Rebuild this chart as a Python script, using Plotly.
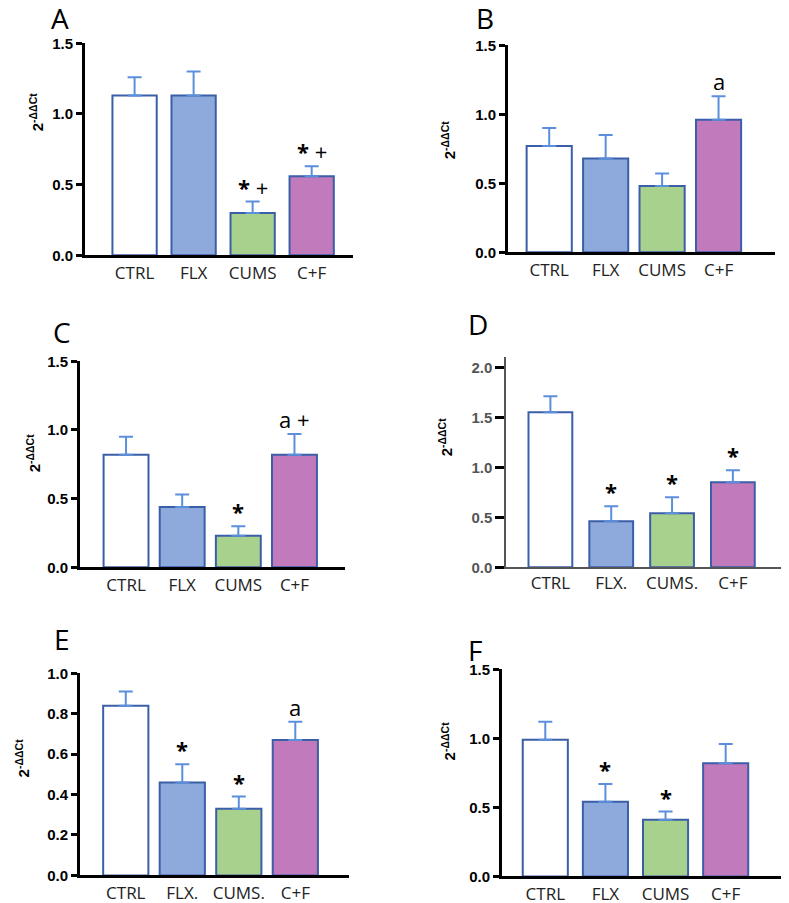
import plotly.graph_objects as go

W, H = 789, 903
# the browser shifts the figure: screen_x = fig_x + 8, screen_y = 0.981 * (fig_y + 8) + 8.9
OFF = 8
SY, TY = 0.981, 8.9

# groups and colours shared by all panels
groups = ["CTRL", "FLX", "CUMS", "C+F"]
groups_dot = ["CTRL", "FLX.", "CUMS.", "C+F"]
bar_colors = ["#ffffff", "#8eaadc", "#a9d18e", "#c17abb"]

# panel A
mean_a = [1.13, 1.13, 0.30, 0.56]
sem_a = [0.13, 0.17, 0.08, 0.07]
marks_a = ["", "", "<b>*</b> +", "<b>*</b> +"]

# panel B
mean_b = [0.77, 0.68, 0.48, 0.96]
sem_b = [0.13, 0.17, 0.09, 0.17]
marks_b = ["", "", "", "a"]

# panel C
mean_c = [0.82, 0.44, 0.23, 0.82]
sem_c = [0.13, 0.09, 0.07, 0.15]
marks_c = ["", "", "<b>*</b>", "a +"]

# panel D
mean_d = [1.55, 0.46, 0.54, 0.85]
sem_d = [0.16, 0.15, 0.16, 0.12]
marks_d = ["", "<b>*</b>", "<b>*</b>", "<b>*</b>"]

# panel E
mean_e = [0.84, 0.46, 0.33, 0.67]
sem_e = [0.07, 0.09, 0.06, 0.09]
marks_e = ["", "<b>*</b>", "<b>*</b>", "a"]

# panel F
mean_f = [0.99, 0.54, 0.41, 0.82]
sem_f = [0.13, 0.13, 0.06, 0.14]
marks_f = ["", "<b>*</b>", "<b>*</b>", ""]

AXIS_TITLE = "2<sup>-ΔΔCt</sup>"

# layout of each panel in page pixels
panels = [
    dict(letter="A", mean=mean_a, sem=sem_a, marks=marks_a, cats=groups,
         xd=(85, 353), yd=(43, 255), yr=(0, 1.5), dt=0.5, xr=(-0.84, 3.70), bw=0.75,
         lab=(60, 18), tit=(36, 112), faded=False),
    dict(letter="B", mean=mean_b, sem=sem_b, marks=marks_b, cats=groups,
         xd=(508, 775), yd=(45, 252), yr=(0, 1.5), dt=0.5, xr=(-0.73, 4.0), bw=0.80,
         lab=(485, 18), tit=(448, 139), faded=False),
    dict(letter="C", mean=mean_c, sem=sem_c, marks=marks_c, cats=groups,
         xd=(80, 345), yd=(361, 567), yr=(0, 1.5), dt=0.5, xr=(-0.82, 3.90), bw=0.80,
         lab=(62, 332), tit=(33, 453), faded=False),
    dict(letter="D", mean=mean_d, sem=sem_d, marks=marks_d, cats=groups_dot,
         xd=(506, 787), yd=(357, 567), yr=(0, 2.1), dt=0.5, xr=(-0.73, 3.89), bw=0.72,
         lab=(478, 324), tit=(445, 437), faded=True),
    dict(letter="E", mean=mean_e, sem=sem_e, marks=marks_e, cats=groups_dot,
         xd=(80, 349), yd=(673, 875), yr=(0, 1.0), dt=0.2, xr=(-0.81, 3.95), bw=0.80,
         lab=(62, 639), tit=(22, 758), faded=False),
    dict(letter="F", mean=mean_f, sem=sem_f, marks=marks_f, cats=groups,
         xd=(502, 787), yd=(669, 876), yr=(0, 1.5), dt=0.5, xr=(-0.72, 4.02), bw=0.75,
         lab=(475, 650), tit=(448, 740), faded=False),
]


def px_x(v):
    return (v - OFF) / W


def px_y(v):
    return 1 - ((v - TY) / SY - OFF) / H


fig = go.Figure()
annotations = []

for i, p in enumerate(panels):
    n = "" if i == 0 else str(i + 1)
    xa, ya = "x" + n, "y" + n

    fig.add_trace(go.Bar(
        x=p["cats"], y=p["mean"], width=p["bw"],
        marker=dict(color=bar_colors, line=dict(color="#3b5ea8", width=2)),
        error_y=dict(type="data", symmetric=False, array=p["sem"],
                     arrayminus=[0] * len(p["sem"]),
                     color="#5b8fdc", thickness=2, width=7),
        xaxis=xa, yaxis=ya, showlegend=False,
    ))

    line_col = "#555555" if p["faded"] else "black"
    line_w = 1.5 if p["faded"] else 3
    fig.layout["xaxis" + n] = dict(
        domain=[px_x(p["xd"][0]), px_x(p["xd"][1])], anchor=ya,
        type="category", range=list(p["xr"]), showgrid=False, zeroline=False,
        showline=True, linecolor=line_col, linewidth=line_w, ticks="",
        ticklabelstandoff=0,
        tickfont=dict(family="Open Sans", size=17, color="#222222"),
    )
    fig.layout["yaxis" + n] = dict(
        domain=[px_y(p["yd"][1]), px_y(p["yd"][0])], anchor=xa,
        range=list(p["yr"]), dtick=p["dt"], tickformat=".1f",
        showgrid=False, zeroline=False, showline=True,
        linecolor=line_col, linewidth=line_w,
        ticks="outside", ticklen=9 if p["faded"] else 6, tickwidth=3, tickcolor="black",
        tickfont=dict(family="Liberation Sans", size=15, weight="bold",
                      color="#555555" if p["faded"] else "black"),
    )

    # panel letter
    annotations.append(dict(
        text=p["letter"], x=px_x(p["lab"][0]), y=px_y(p["lab"][1]),
        xref="paper", yref="paper", xanchor="center", yanchor="middle",
        showarrow=False, font=dict(family="Open Sans", size=28, color="black"),
    ))
    # y axis title
    annotations.append(dict(
        text=AXIS_TITLE, x=px_x(p["tit"][0]), y=px_y(p["tit"][1]),
        xref="paper", yref="paper", xanchor="center", yanchor="middle",
        showarrow=False, textangle=-90,
        font=dict(family="Liberation Sans", size=15, weight="bold", color="black"),
    ))
    # significance marks above the error bars
    for cat, m, s, mk in zip(p["cats"], p["mean"], p["sem"], p["marks"]):
        if not mk:
            continue
        annotations.append(dict(
            text=mk, x=cat, y=m + s, xref=xa, yref=ya, showarrow=False,
            xanchor="center", yanchor="middle", yshift=15,
            font=dict(family="Open Sans", size=22, color="black"),
        ))

fig.update_layout(
    width=W, height=H,
    margin=dict(l=0, r=0, t=0, b=0),
    paper_bgcolor="white", plot_bgcolor="white",
    annotations=annotations,
)

fig.write_html("out.html")
